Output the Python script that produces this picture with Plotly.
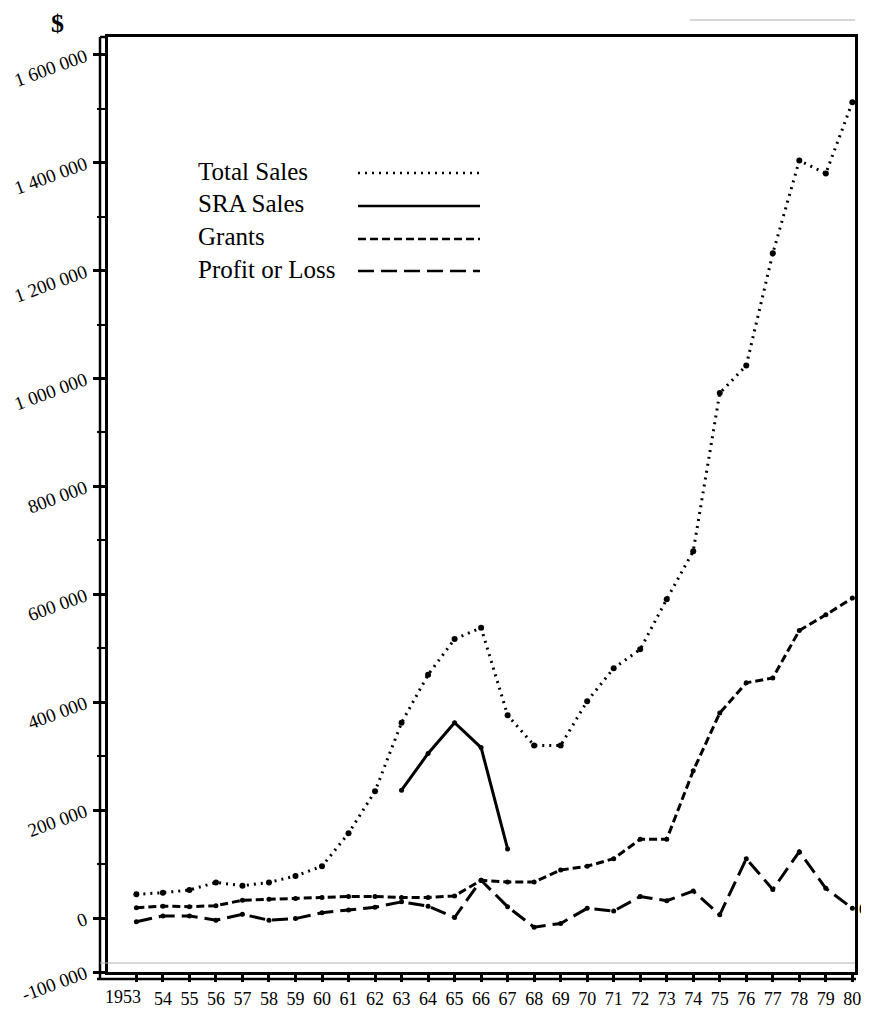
import plotly.graph_objects as go

# ---------------- data ----------------
years = list(range(1953, 1981))
year_labels = ["", "54", "55", "56", "57", "58", "59",
               "60", "61", "62", "63", "64", "65", "66", "67", "68", "69", "70", "71", "72",
               "73", "74", "75", "76", "77", "78", "79", "80"]
first_year_label = "1953"

total_sales = [44000, 47000, 52000, 66000, 60000, 66000, 78000, 96000, 157000, 235000,
               362000, 451000, 517000, 538000, 376000, 320000, 320000, 402000, 463000,
               498000, 591000, 680000, 973000, 1024000, 1232000, 1404000, 1380000, 1512000]

sra_years = [1963, 1964, 1965, 1966, 1967]
sra_sales = [237000, 305000, 362000, 316000, 128000]

grants = [19000, 22000, 21000, 23000, 33000, 35000, 36000, 38000, 40000, 40000, 38000,
          38000, 41000, 70000, 67000, 67000, 89000, 96000, 110000, 146000, 146000, 273000,
          380000, 436000, 445000, 533000, 562000, 593000]

profit_loss = [-7000, 4000, 4000, -4000, 7000, -4000, -1000, 10000, 15000, 20000, 30000,
               22000, 1000, 70000, 21000, -17000, -10000, 18000, 13000, 40000, 32000, 50000,
               6000, 110000, 53000, 123000, 55000, 18000]

y_tickvals = [-100000, 0, 200000, 400000, 600000, 800000, 1000000, 1200000, 1400000, 1600000]
y_ticktext = ["-100 000", "0", "200 000", "400 000", "600 000", "800 000",
              "1 000 000", "1 200 000", "1 400 000", "1 600 000"]
y_minor = list(range(-100000, 1700000, 100000))

legend_names = ["Total Sales", "SRA Sales", "Grants", "Profit or Loss"]

# ---------------- layout geometry (page pixels) ----------------
PAGE_W, PAGE_H = 869, 1015
OFF = 8  # default body margin of the html page
W, H = PAGE_W - OFF, PAGE_H - OFF
L, R, T, B = 108, 855, 37, 972   # plot area in page pixels
FONT = "Liberation Serif"


def px(x):
    return (x - L) / (R - L)


def py(y):
    return (B - y) / (B - T)


fig = go.Figure()

fig.add_trace(go.Scatter(x=years, y=total_sales, mode="lines+markers", name=legend_names[0],
                         line=dict(color="black", width=3, dash="2px,5px"),
                         marker=dict(color="black", size=6)))
fig.add_trace(go.Scatter(x=sra_years, y=sra_sales, mode="lines+markers", name=legend_names[1],
                         line=dict(color="black", width=3),
                         marker=dict(color="black", size=5)))
fig.add_trace(go.Scatter(x=years, y=grants, mode="lines+markers", name=legend_names[2],
                         line=dict(color="black", width=3, dash="8px,4px"),
                         marker=dict(color="black", size=5)))
fig.add_trace(go.Scatter(x=years, y=profit_loss, mode="lines+markers", name=legend_names[3],
                         line=dict(color="black", width=3, dash="16px,7px"),
                         marker=dict(color="black", size=5)))

shapes = []
# outer left axis line and lower bottom line (double-line frame)
shapes.append(dict(type="line", xref="paper", yref="paper", x0=px(100), x1=px(100),
                   y0=py(980), y1=py(37), line=dict(color="black", width=2.5)))
shapes.append(dict(type="line", xref="paper", yref="paper", x0=px(97), x1=px(856),
                   y0=py(979), y1=py(979), line=dict(color="black", width=2.5)))
shapes.append(dict(type="line", xref="paper", yref="paper", x0=px(100), x1=px(108),
                   y0=py(37), y1=py(37), line=dict(color="black", width=2.5)))
# faint scan lines
shapes.append(dict(type="line", xref="paper", yref="paper", x0=px(100), x1=px(855),
                   y0=py(963), y1=py(963), line=dict(color="#b0b0b0", width=1)))
shapes.append(dict(type="line", xref="paper", yref="paper", x0=px(690), x1=px(855),
                   y0=py(20), y1=py(20), line=dict(color="#b0b0b0", width=1)))

# legend samples
legend_rows = [171, 204, 237, 269]
legend_dash = ["2px,5px", "solid", "8px,4px", "16px,7px"]
for ry, d in zip(legend_rows, legend_dash):
    shapes.append(dict(type="line", xref="paper", yref="paper", x0=px(358), x1=px(480),
                       y0=py(ry + 2), y1=py(ry + 2), line=dict(color="black", width=2.5, dash=d)))

annotations = []
for ry, name in zip(legend_rows, legend_names):
    annotations.append(dict(x=px(196), y=py(ry), xref="paper", yref="paper", text=name,
                            showarrow=False, xanchor="left", yanchor="middle",
                            font=dict(family=FONT, size=25, color="black")))
annotations.append(dict(x=px(57), y=py(23), xref="paper", yref="paper", text="<b>$</b>",
                        showarrow=False, xanchor="center", yanchor="middle",
                        font=dict(family=FONT, size=26, color="black")))
annotations.append(dict(x=px(863), y=py(909), xref="paper", yref="paper", text="<b>0</b>",
                        showarrow=False, xanchor="center", yanchor="middle",
                        font=dict(family=FONT, size=14, color="black")))
# first year label, set slightly left of its tick as in the original
annotations.append(dict(x=years[0], y=py(997), xref="x", yref="paper", text=first_year_label,
                        showarrow=False, xanchor="right", yanchor="middle", xshift=7,
                        font=dict(family=FONT, size=18, color="black")))

fig.update_layout(
    width=W, height=H,
    margin=dict(l=L - OFF, r=PAGE_W - R, t=T - OFF, b=PAGE_H - B, pad=0, autoexpand=False),
    paper_bgcolor="white", plot_bgcolor="white",
    showlegend=False,
    shapes=shapes,
    annotations=annotations,
    font=dict(family=FONT, color="black"),
)

fig.update_xaxes(
    range=[1951.93, 1980.1],
    tickmode="array", tickvals=years, ticktext=year_labels,
    ticks="outside", ticklen=7, tickwidth=2.5, tickcolor="black",
    showline=True, linecolor="black", linewidth=2.5, mirror=True,
    showgrid=False, zeroline=False, automargin=False,
    tickangle=0,
    tickfont=dict(family=FONT, size=18, color="black"),
    ticklabelstandoff=2,
)

fig.update_yaxes(
    range=[-100000, 1633000],
    tickmode="array", tickvals=y_tickvals, ticktext=y_ticktext,
    ticks="outside", ticklen=12, tickwidth=2.5, tickcolor="black",
    minor=dict(tickmode="array", tickvals=y_minor, ticks="outside", ticklen=8,
               tickwidth=2, tickcolor="black", showgrid=False),
    showline=True, linecolor="black", linewidth=2.5, mirror=True,
    showgrid=False, zeroline=False, automargin=False,
    tickangle=-20,
    tickfont=dict(family=FONT, size=19, color="black"),
    ticklabelstandoff=4,
)

fig.write_html("out.html")
